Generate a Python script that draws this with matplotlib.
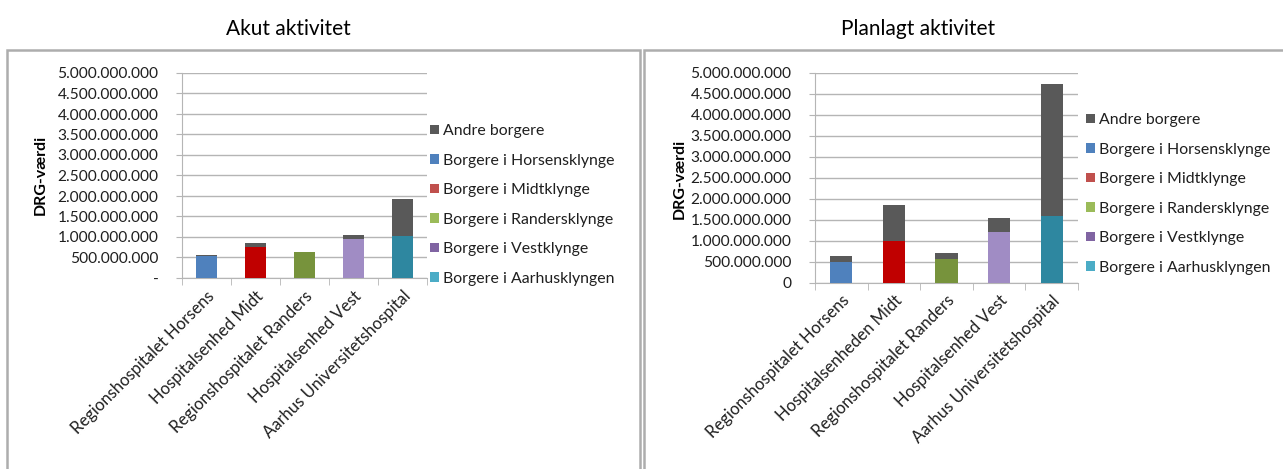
import numpy as np
import matplotlib
matplotlib.use("Agg")
import matplotlib.pyplot as plt
import matplotlib.transforms as mtransforms
from matplotlib.patches import Rectangle, Patch
from matplotlib.ticker import FuncFormatter, MultipleLocator, FixedLocator

plt.rcParams['font.family'] = ['Lato', 'DejaVu Sans']

# hospitals on the x axis
akut_hospitals = ["Regionshospitalet Horsens", "Hospitalsenhed Midt", "Regionshospitalet Randers",
                  "Hospitalsenhed Vest", "Aarhus Universitetshospital"]
plan_hospitals = ["Regionshospitalet Horsens", "Hospitalsenheden Midt", "Regionshospitalet Randers",
                  "Hospitalsenhed Vest", "Aarhus Universitetshospital"]

legend_labels = ["Andre borgere", "Borgere i Horsensklynge", "Borgere i Midtklynge",
                 "Borgere i Randersklynge", "Borgere i Vestklynge", "Borgere i Aarhusklyngen"]

# own cluster citizens (each hospital only has its own cluster) + other citizens on top
akut_own = [540e6, 760e6, 635e6, 950e6, 1020e6]
akut_andre = [10e6, 85e6, 10e6, 100e6, 900e6]
plan_own = [493e6, 993e6, 564e6, 1210e6, 1595e6]
plan_andre = [143e6, 847e6, 150e6, 320e6, 3125e6]

bar_colors = ["#4F81BD", "#C00000", "#77933C", "#A08CC4", "#2E87A0"]
legend_colors = ["#595959", "#4F81BD", "#C0504D", "#9BBB59", "#8064A2", "#4BACC6"]
andre_color = "#595959"
grid_col = "#B5B5B5"
txt_col = "#1F1F1F"

W, H = 1283, 469
fig = plt.figure(figsize=(W / 100, H / 100), dpi=100)


def px_axes(x0, x1, ytop, ybot):
    return fig.add_axes([x0 / W, 1 - ybot / H, (x1 - x0) / W, (ybot - ytop) / H])


def thousands(v, pos, dash_zero):
    if v == 0:
        return "-" if dash_zero else "0"
    return f"{int(round(v)):,}".replace(",", ".")


def draw_panel(ax, cats, own, andre, dash_zero):
    x = np.arange(len(cats))
    ax.bar(x, own, width=0.42, color=bar_colors, zorder=3)
    ax.bar(x, andre, width=0.42, bottom=own, color=andre_color, zorder=3)
    ax.set_xlim(-0.5, len(cats) - 0.5)
    ax.set_ylim(0, 5e9)
    ax.yaxis.set_major_locator(MultipleLocator(5e8))
    ax.yaxis.set_major_formatter(FuncFormatter(lambda v, p: thousands(v, p, dash_zero)))
    ax.grid(axis='y', color=grid_col, lw=1, zorder=0)
    for s in ["top", "right"]:
        ax.spines[s].set_visible(False)
    for s in ["left", "bottom"]:
        ax.spines[s].set_color(grid_col)
    ax.set_xticks(x)
    ax.set_xticklabels(cats, rotation=45, ha='right', rotation_mode='anchor', fontsize=12,
                       color=txt_col)
    # nudge labels a bit to the right like Excel does
    shift = mtransforms.ScaledTranslation(8 / 100, 0, fig.dpi_scale_trans)
    for lab in ax.get_xticklabels():
        lab.set_transform(lab.get_transform() + shift)
    ax.tick_params(axis='x', length=0, pad=7)
    ax.xaxis.set_minor_locator(FixedLocator(np.arange(-0.5, len(cats), 1.0)))
    ax.tick_params(axis='x', which='minor', length=5, color=grid_col)
    ax.tick_params(axis='y', length=4, color=grid_col, labelsize=11.2, labelcolor=txt_col, pad=13)


ax1 = px_axes(182, 427, 73, 278)
draw_panel(ax1, akut_hospitals, akut_own, akut_andre, True)
ax2 = px_axes(815, 1078, 72.7, 282.7)
draw_panel(ax2, plan_hospitals, plan_own, plan_andre, False)

# legends
handles = [Patch(facecolor=c, edgecolor='none') for c in legend_colors]
for ax, xl, yt in [(ax1, 430, 124), (ax2, 1086, 113)]:
    fig.legend(handles, legend_labels, loc='upper left', bbox_to_anchor=(xl / W, 1 - yt / H),
               frameon=False, fontsize=11.4, handlelength=0.55, handleheight=0.55,
               handletextpad=0.3, labelspacing=0.98, borderpad=0, borderaxespad=0,
               labelcolor=txt_col)

# y labels
fig.text(41 / W, 1 - 175 / H, "DRG-værdi", rotation=90, fontsize=11.5, fontweight='bold',
         ha='center', va='center')
fig.text(680 / W, 1 - 179 / H, "DRG-værdi", rotation=90, fontsize=11.5, fontweight='bold',
         ha='center', va='center')

# titles
fig.text(288 / W, 1 - 29 / H, "Akut aktivitet", fontsize=15, ha='center', va='center')
fig.text(918 / W, 1 - 29 / H, "Planlagt aktivitet", fontsize=15, ha='center', va='center')

# panel frames
for x0, x1 in [(7, 640), (644, 1300)]:
    fig.patches.append(Rectangle((x0 / W, -0.1), (x1 - x0) / W, 1.1 - 50 / H,
                                 transform=fig.transFigure, fill=False,
                                 edgecolor="#ADADAD", lw=1.8))

fig.savefig("out.png", dpi=100)
